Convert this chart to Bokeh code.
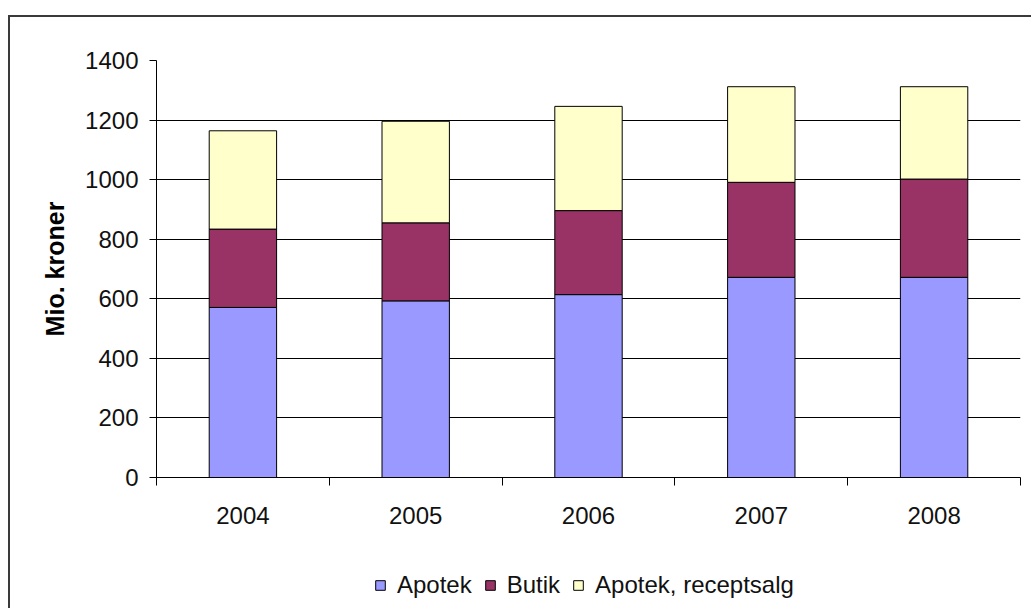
from bokeh.plotting import figure
from bokeh.layouts import column
from bokeh.models import (Range1d, FixedTicker, Legend, LegendItem, ColumnDataSource,
                          InlineStyleSheet)
from bokeh.embed import file_html
from bokeh.resources import INLINE

years = ["2004", "2005", "2006", "2007", "2008"]
apotek = [571, 593, 614, 672, 672]
butik = [263, 262, 282, 319, 330]
receptsalg = [330, 341, 350, 321, 310]
series = ["Apotek", "Butik", "Apotek, receptsalg"]
colors = ["#9999FF", "#993366", "#FFFFCC"]
y_ticks = [0, 200, 400, 600, 800, 1000, 1200, 1400]

FONT = "Liberation Sans"

xs = [i + 0.5 for i in range(len(years))]
src = ColumnDataSource(dict(x=xs, Apotek=apotek, Butik=butik, Recept=receptsalg))
stack_cols = ["Apotek", "Butik", "Recept"]

LEG_H = 48
p = figure(width=1031, height=608 - LEG_H, output_backend="svg", toolbar_location=None,
           x_range=Range1d(0, len(years)), y_range=Range1d(0, 1400),
           min_border_left=156, min_border_right=11, min_border_top=60,
           min_border_bottom=608 - LEG_H - 477)
# outer chart frame (left and top edges visible) drawn as an overlay
p.stylesheets = [InlineStyleSheet(css=(
    ":host::after { content: ''; position: absolute; left: 8px; top: 15px; "
    "right: -4px; bottom: -4px; border-left: 2px solid #3a3a3a; "
    "border-top: 2px solid #3a3a3a; pointer-events: none; }"))]
p.outline_line_color = None
p.background_fill_color = "white"
p.border_fill_color = "white"

renderers = p.vbar_stack(stack_cols, x="x", width=0.39, source=src,
                         fill_color=colors, line_color="black", line_width=1)

# grid
p.xgrid.visible = False
p.ygrid.ticker = FixedTicker(ticks=y_ticks)
p.ygrid.grid_line_color = "black"
p.ygrid.grid_line_width = 1

# y axis
p.yaxis.ticker = FixedTicker(ticks=y_ticks)
p.yaxis.axis_line_color = "black"
p.yaxis.major_tick_line_color = "black"
p.yaxis.major_tick_out = 7
p.yaxis.major_tick_in = 0
p.yaxis.minor_tick_line_color = None
p.yaxis.major_label_standoff = 11
p.yaxis.major_label_text_font = FONT
p.yaxis.major_label_text_font_size = "24px"
p.yaxis.major_label_text_color = "#111111"
p.yaxis.axis_label = "Mio. kroner"
p.yaxis.axis_label_text_font = FONT
p.yaxis.axis_label_text_font_size = "25px"
p.yaxis.axis_label_text_font_style = "bold"
p.yaxis.axis_label_text_color = "black"
p.yaxis.axis_label_standoff = 13

# x axis
p.xaxis.ticker = FixedTicker(ticks=xs, minor_ticks=list(range(len(years) + 1)))
p.xaxis.major_label_overrides = {x: y for x, y in zip(xs, years)}
p.xaxis.axis_line_color = "black"
p.xaxis.major_tick_line_color = None
p.xaxis.major_tick_out = 0
p.xaxis.major_tick_in = 0
p.xaxis.minor_tick_line_color = "black"
p.xaxis.minor_tick_out = 8
p.xaxis.minor_tick_in = 0
p.xaxis.major_label_standoff = 21
p.xaxis.major_label_text_font = FONT
p.xaxis.major_label_text_font_size = "24px"
p.xaxis.major_label_text_color = "#111111"

# legend strip below the chart (frames of the column are aligned with p)
q = figure(width=1031, height=LEG_H, output_backend="svg", toolbar_location=None,
           x_range=Range1d(0, 1), y_range=Range1d(0, 1),
           x_axis_location=None, y_axis_location=None, min_border=0)
q.stylesheets = [InlineStyleSheet(css=(
    ":host::after { content: ''; position: absolute; left: 8px; top: -4px; "
    "right: -4px; bottom: -4px; border-left: 2px solid #3a3a3a; "
    "pointer-events: none; }"))]
q.grid.visible = False
q.outline_line_color = None
q.background_fill_color = "white"
q.border_fill_color = "white"
# same series styling, hidden (only used for the legend swatches)
swatches = q.vbar_stack(stack_cols, x="x", width=0.39, source=src,
                        fill_color=colors, line_color="black", line_width=1,
                        visible=False)
items = [LegendItem(label=s, renderers=[r]) for s, r in zip(series, swatches)]
legend = Legend(items=items, orientation="horizontal", location=(218, 9),
                label_text_font=FONT, label_text_font_size="24px",
                label_text_color="#111111",
                glyph_width=12, glyph_height=12, label_standoff=11, spacing=12,
                padding=0, margin=0, border_line_color=None,
                background_fill_alpha=0, click_policy="none")
q.add_layout(legend, "center")

layout = column(p, q, spacing=0)
open("out.html", "w").write(file_html(layout, INLINE))
